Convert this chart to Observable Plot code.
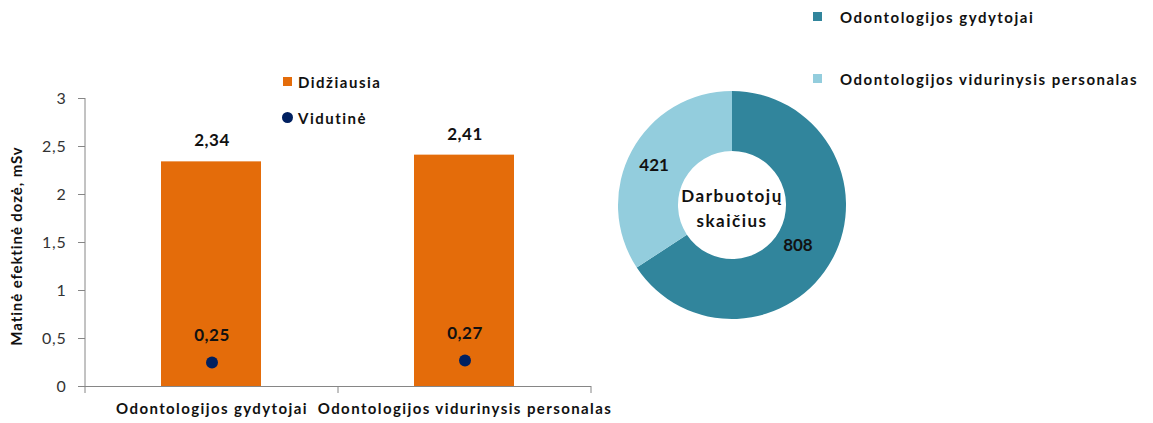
<!DOCTYPE html>
<html><head><meta charset="utf-8">
<script src="https://cdn.jsdelivr.net/npm/d3@7"></script>
<script src="https://cdn.jsdelivr.net/npm/@observablehq/plot@0.6"></script>
<style>
body{margin:0;background:#fff;font-family:Lato,"Open Sans",sans-serif;}
#wrap{position:relative;width:1153px;height:423px;overflow:hidden}
#bar{position:absolute;left:0;top:0}
#donut{position:absolute;left:607px;top:80px}
.leg{position:absolute;font-weight:bold;font-size:15px;letter-spacing:1.5px;color:#111;white-space:nowrap;line-height:16px;height:16px}
.sw{position:absolute;width:9px;height:9px}
.dot{position:absolute;width:11px;height:11px;border-radius:50%}
#bar g[aria-label="x-axis tick label"] text{letter-spacing:1.4px}
#bar g[aria-label="y-axis tick label"] text{letter-spacing:0.8px}
#bar g[aria-label="text"] text{letter-spacing:0.5px}
#donut text.c{letter-spacing:1.5px}
</style></head>
<body><div id="wrap"></div>
<script>
const categories = ["Odontologijos gydytojai", "Odontologijos vidurinysis personalas"];
const maxDose = [2.34, 2.41];
const avgDose = [0.25, 0.27];
const yTicks = [0, 0.5, 1, 1.5, 2, 2.5, 3];
const yLabel = "Matinė efektinė dozė, mSv";
const barSeries = ["Didžiausia", "Vidutinė"];
const donutCats = ["Odontologijos gydytojai", "Odontologijos vidurinysis personalas"];
const donutValues = [808, 421];
const donutCenter = ["Darbuotojų", "skaičius"];

const C_ORANGE = "#E46C0A", C_NAVY = "#002060", C_DARK = "#31859C", C_LIGHT = "#93CDDD";
const fmt = v => String(v).replace(".", ",");
const rows = categories.map((c, i) => ({cat: c, max: maxDose[i], avg: avgDose[i]}));

const wrap = document.getElementById("wrap");

// Bar chart
const ML = 85, MR = 29, MT = 98, MB = 37, W = 620, H = 423;
const bar = Plot.plot({
  width: W, height: H, marginLeft: ML, marginRight: MR, marginTop: MT, marginBottom: MB,
  style: {fontFamily: "Lato, 'Open Sans', sans-serif", fontSize: "14px", background: "transparent", overflow: "visible"},
  x: {domain: categories, padding: 0, axis: null},
  y: {domain: [0, 3], axis: null},
  marks: [
    Plot.barY(rows, {x: "cat", y: "max", fill: C_ORANGE, insetLeft: 76, insetRight: 77}),
    Plot.axisY({ticks: yTicks, tickFormat: fmt, tickSize: 7, tickPadding: 12, stroke: "#868686", fill: "#333", fontSize: 16, label: null}),
    Plot.ruleY([0], {stroke: "#868686"}),
    (index, scales, values, dim) => {
      const g = d3.create("svg:g");
      const x0 = dim.marginLeft, x1 = dim.width - dim.marginRight, yb = dim.height - dim.marginBottom, yt = dim.marginTop;
      const axes = g.append("g").attr("stroke", "#868686");
      axes.append("line").attr("x1", x0).attr("x2", x0).attr("y1", yt).attr("y2", yb);
      const n = categories.length;
      for (let i = 0; i <= n; i++) {
        const x = x0 + i * (x1 - x0) / n;
        axes.append("line").attr("x1", x).attr("x2", x).attr("y1", yb).attr("y2", yb + 7);
      }
      g.append("text")
        .attr("transform", `translate(${x0 - 68},${(yt + yb) / 2 + 4}) rotate(-90)`)
        .attr("text-anchor", "middle").attr("dy", "0.35em")
        .attr("font-size", 15).attr("font-weight", "bold").attr("letter-spacing", "0.9px")
        .attr("fill", "#111").text(yLabel);
      return g.node();
    },
    Plot.axisX({tickSize: 0, tickPadding: 17, fontSize: 15, fontWeight: "bold", fill: "#111", label: null}),
    Plot.dot(rows, {x: "cat", y: "avg", r: 6, fill: C_NAVY}),
    Plot.text(rows, {x: "cat", y: "max", text: d => fmt(d.max), dy: -21, fontSize: 17, fontWeight: "bold", fill: "#111"}),
    Plot.text(rows, {x: "cat", y: "avg", text: d => fmt(d.avg), dy: -27, fontSize: 17, fontWeight: "bold", fill: "#111"})
  ]
});
bar.id = "bar";
wrap.appendChild(bar);

// Bar legend
function addLeg(text, x, y) {
  const d = document.createElement("div"); d.className = "leg"; d.textContent = text;
  d.style.left = x + "px"; d.style.top = (y - 8) + "px"; wrap.appendChild(d);
}
function addSw(color, x, y, cls) {
  const d = document.createElement("div"); d.className = cls; d.style.background = color;
  d.style.left = x + "px"; d.style.top = y + "px"; wrap.appendChild(d);
}
addSw(C_ORANGE, 283, 77, "sw"); addLeg(barSeries[0], 298, 82);
addSw(C_NAVY, 282, 112, "dot"); addLeg(barSeries[1], 298, 118);

// Donut
const R = 114, r = 54, DW = 250, DH = 250;
const pieData = donutCats.map((c, i) => ({cat: c, value: donutValues[i]}));
const donut = Plot.plot({
  width: DW, height: DH, margin: 0,
  style: {fontFamily: "Lato, 'Open Sans', sans-serif", background: "transparent", overflow: "visible"},
  color: {domain: donutCats, range: [C_DARK, C_LIGHT]},
  x: {axis: null}, y: {axis: null},
  marks: [
    (index, scales, values, dim) => {
      const cx = dim.width / 2, cy = dim.height / 2;
      const arcs = d3.pie().sort(null).value(d => d.value)(pieData);
      const arc = d3.arc().innerRadius(r).outerRadius(R);
      const g = d3.create("svg:g").attr("transform", `translate(${cx},${cy})`);
      g.selectAll("path").data(arcs).join("path").attr("d", arc).attr("fill", d => scales.color(d.data.cat));
      g.selectAll("text.v").data(arcs).join("text").attr("class", "v")
        .attr("transform", d => { const [x, y] = arc.centroid(d); return `translate(${x + (d.index === 0 ? -8 : -4)},${y})`; })
        .attr("text-anchor", "middle").attr("dy", "0.35em")
        .attr("font-size", 17).attr("font-weight", "bold").attr("fill", "#111").text(d => d.data.value);
      g.selectAll("text.c").data(donutCenter).join("text").attr("class", "c")
        .attr("y", (d, i) => -9 + i * 25).attr("text-anchor", "middle").attr("dy", "0.35em")
        .attr("font-size", 17).attr("font-weight", "bold").attr("fill", "#111").text(d => d);
      return g.node();
    }
  ]
});
donut.id = "donut";
wrap.appendChild(donut);

addSw(C_DARK, 813, 12, "sw"); addLeg(donutCats[0], 840, 17);
addSw(C_LIGHT, 813, 74, "sw"); addLeg(donutCats[1], 840, 79);
</script></body></html>
